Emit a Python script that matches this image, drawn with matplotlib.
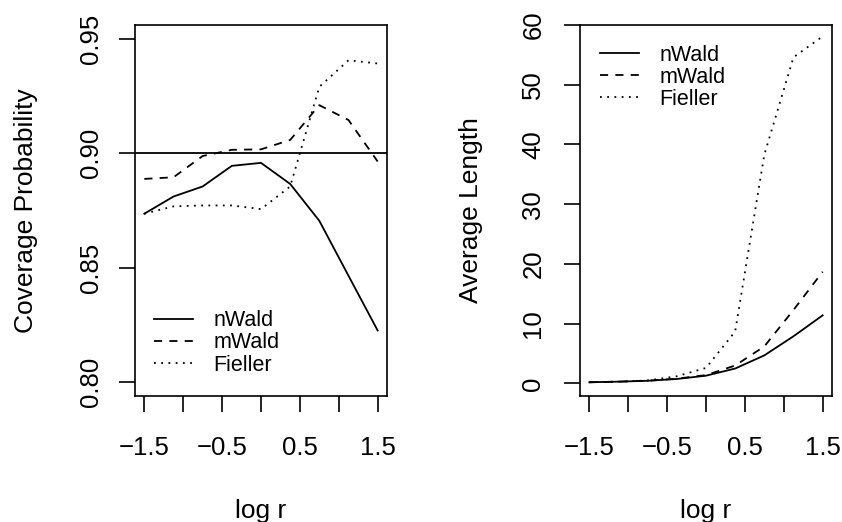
import matplotlib
matplotlib.use('Agg')
import matplotlib.pyplot as plt

plt.rcParams['font.family'] = ['Liberation Sans', 'DejaVu Sans']

# log ratio grid
log_r = [-1.5, -1.125, -0.75, -0.375, 0.0, 0.375, 0.75, 1.125, 1.5]

# coverage probability
cov_nwald = [0.8736, 0.8811, 0.8855, 0.8945, 0.8958, 0.8866, 0.8705, 0.8465, 0.8226]
cov_mwald = [0.8888, 0.8895, 0.8988, 0.9015, 0.9017, 0.9058, 0.9210, 0.9145, 0.8964]
cov_fieller = [0.8736, 0.8768, 0.8772, 0.8772, 0.8756, 0.8855, 0.9290, 0.9406, 0.9392]
nominal = 0.90

# average length
len_nwald = [0.2, 0.3, 0.45, 0.75, 1.3, 2.5, 4.7, 7.9, 11.4]
len_mwald = [0.2, 0.3, 0.45, 0.8, 1.4, 3.0, 6.2, 12.3, 18.7]
len_fieller = [0.2, 0.3, 0.5, 1.2, 2.6, 8.7, 38.3, 54.6, 58.1]

labels = ['nWald', 'mWald', 'Fieller']
x_ticks = [-1.5, -1.0, -0.5, 0.0, 0.5, 1.0, 1.5]
x_ticklabels = ['\u22121.5', '', '\u22120.5', '', '0.5', '', '1.5']

LW = 1.3
styles = [dict(ls='-'), dict(ls=(0, (4.5, 4))), dict(ls=(0, (1, 3)))]

fig = plt.figure(figsize=(8.42, 5.22), dpi=100)
ax1 = fig.add_axes([135 / 842, 1 - 396 / 522, 252 / 842, 371 / 522])
ax2 = fig.add_axes([580 / 842, 1 - 396 / 522, 252 / 842, 371 / 522])


def style_axes(ax, ypad):
    ax.set_xlim(-1.62, 1.62)
    ax.set_xticks(x_ticks)
    ax.set_xticklabels(x_ticklabels)
    for s in ax.spines.values():
        s.set_linewidth(1.2)
    ax.tick_params(axis='both', direction='out', length=11.5, width=1.2,
                   labelsize=18.5)
    ax.tick_params(axis='x', pad=17)
    ax.tick_params(axis='y', pad=ypad, labelrotation=90)
    for t in ax.get_yticklabels():
        t.set_va('center')
    ax.set_xlabel('log r', fontsize=19)
    ax.xaxis.set_label_coords(0.5, -0.278)


# left panel: coverage probability
for yv, lab, st in zip([cov_nwald, cov_mwald, cov_fieller], labels, styles):
    ax1.plot(log_r, yv, color='black', lw=LW, label=lab, **st)
ax1.axhline(nominal, color='black', lw=LW)
ax1.set_ylim(0.794, 0.956)
ax1.set_yticks([0.80, 0.85, 0.90, 0.95])
ax1.set_yticklabels(['0.80', '0.85', '0.90', '0.95'])
style_axes(ax1, 11.5)
ax1.set_ylabel('Coverage Probability', fontsize=19)
ax1.yaxis.set_label_coords(-0.383, 0.5)
ax1.legend(loc='center left', bbox_to_anchor=(0.075, 0.143), frameon=False,
           fontsize=15.5, handlelength=1.8, handletextpad=0.95,
           labelspacing=0.05, borderpad=0, borderaxespad=0)

# right panel: average length
for yv, lab, st in zip([len_nwald, len_mwald, len_fieller], labels, styles):
    ax2.plot(log_r, yv, color='black', lw=LW, label=lab, **st)
ax2.set_ylim(-2.1, 60.0)
ax2.set_yticks([0, 10, 20, 30, 40, 50, 60])
style_axes(ax2, 13.5)
ax2.set_ylabel('Average Length', fontsize=19)
ax2.yaxis.set_label_coords(-0.383, 0.5)
ax2.legend(loc='center left', bbox_to_anchor=(0.079, 0.859), frameon=False,
           fontsize=15.5, handlelength=1.8, handletextpad=0.95,
           labelspacing=0.05, borderpad=0, borderaxespad=0)

fig.savefig('out.png', dpi=100)
